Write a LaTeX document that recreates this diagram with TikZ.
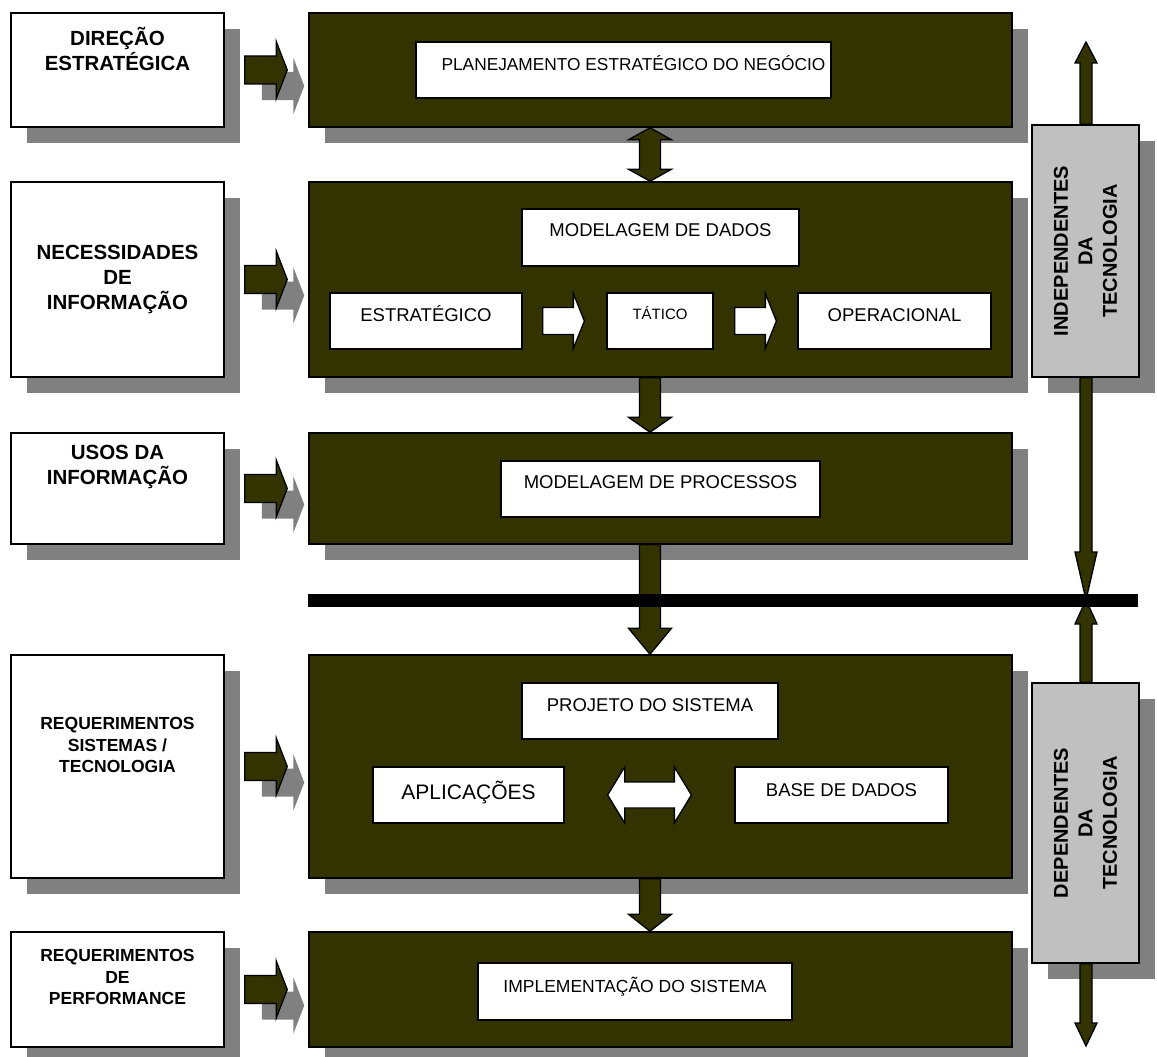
\documentclass[tikz,border=0pt]{standalone}
\usepackage{fontspec}
\setmainfont{Liberation Sans}
\usetikzlibrary{calc,shadows}

\definecolor{olivefill}{RGB}{51,51,0}
\definecolor{shadowgray}{RGB}{128,128,128}
\definecolor{panelgray}{RGB}{192,192,192}

% block arrows: #1 style, #2 first point, #3 second point,
% #4 half shaft width, #5 half head width, #6 head length
\newcommand\blockdown[6]{%
  \path[#1] let \p1=(#2), \p2=(#3) in
    (\x1-#4,\y1) -- (\x1+#4,\y1) -- (\x1+#4,\y2+#6) -- (\x1+#5,\y2+#6)
    -- (\x1,\y2) -- (\x1-#5,\y2+#6) -- (\x1-#4,\y2+#6) -- cycle;}
\newcommand\blockup[6]{%
  \path[#1] let \p1=(#2), \p2=(#3) in
    (\x1,\y1) -- (\x1+#5,\y1-#6) -- (\x1+#4,\y1-#6) -- (\x1+#4,\y2)
    -- (\x1-#4,\y2) -- (\x1-#4,\y1-#6) -- (\x1-#5,\y1-#6) -- cycle;}
\newcommand\blockupdown[6]{%
  \path[#1] let \p1=(#2), \p2=(#3) in
    (\x1,\y1) -- (\x1+#5,\y1-#6) -- (\x1+#4,\y1-#6) -- (\x1+#4,\y2+#6)
    -- (\x1+#5,\y2+#6) -- (\x1,\y2) -- (\x1-#5,\y2+#6) -- (\x1-#4,\y2+#6)
    -- (\x1-#4,\y1-#6) -- (\x1-#5,\y1-#6) -- cycle;}
\newcommand\blockright[6]{%
  \path[#1] let \p1=(#2), \p2=(#3) in
    (\x1,\y1-#4) -- (\x2-#6,\y1-#4) -- (\x2-#6,\y1-#5) -- (\x2,\y1)
    -- (\x2-#6,\y1+#5) -- (\x2-#6,\y1+#4) -- (\x1,\y1+#4) -- cycle;}
\newcommand\blockleftright[6]{%
  \path[#1] let \p1=(#2), \p2=(#3) in
    (\x1,\y1) -- (\x1+#6,\y1+#5) -- (\x1+#6,\y1+#4) -- (\x2-#6,\y1+#4)
    -- (\x2-#6,\y1+#5) -- (\x2,\y1) -- (\x2-#6,\y1-#5) -- (\x2-#6,\y1-#4)
    -- (\x1+#6,\y1-#4) -- (\x1+#6,\y1-#5) -- cycle;}

\tikzset{
  boxshadow/.style={drop shadow={shadow xshift=16pt, shadow yshift=-16pt,
      opacity=1, fill=shadowgray}},
  sidebox/.style={rectangle, inner sep=0, draw=black, line width=1.5pt,
      fill=white, boxshadow},
  stagebox/.style={rectangle, inner sep=0, draw=black, line width=1.5pt,
      fill=olivefill, boxshadow},
  innerbox/.style={rectangle, inner sep=0, draw=black, line width=1.3pt,
      fill=white},
  panelbox/.style={rectangle, inner sep=0, draw=black, line width=1.3pt,
      fill=panelgray, boxshadow},
  sidelabel/.style={align=center, inner sep=0,
      font=\fontsize{20.5}{25}\selectfont\bfseries},
  smallsidelabel/.style={align=center, inner sep=0,
      font=\fontsize{17.5}{21.5}\selectfont\bfseries},
  panellabel/.style={align=center, inner sep=0, rotate=90,
      font=\fontsize{20}{24.5}\selectfont\bfseries},
  innerlabel/.style={inner sep=0, font=\fontsize{18.5}{22}\selectfont},
  darkarrow/.style={fill=olivefill, draw=black, line width=1.3pt, line join=miter},
  whitearrow/.style={fill=white, draw=black, line width=1.3pt, line join=miter},
  shadowarrow/.style={fill=shadowgray},
}

\begin{document}
\begin{tikzpicture}[x=1pt,y=-1pt]
\useasboundingbox (0,0) rectangle (1157,1057);

% left column: inputs
\node[sidebox, minimum width=213pt, minimum height=114pt] (L1) at (117.5,70) {};
\node[sidebox, minimum width=213pt, minimum height=195pt] (L2) at (117.5,279.5) {};
\node[sidebox, minimum width=213pt, minimum height=111pt] (L3) at (117.5,488.5) {};
\node[sidebox, minimum width=213pt, minimum height=223pt] (L4) at (117.5,766.5) {};
\node[sidebox, minimum width=213pt, minimum height=115pt] (L5) at (117.5,989.5) {};

\node[sidelabel] (L1t) at (117.5,49) {DIREÇÃO\\ESTRATÉGICA};
\node[sidelabel] (L2t) at (117.5,279) {NECESSIDADES\\DE\\INFORMAÇÃO};
\node[sidelabel] (L3t) at (117.5,466.5) {USOS DA\\INFORMAÇÃO};
\node[smallsidelabel] (L4t) at (117.5,745) {REQUERIMENTOS\\SISTEMAS /\\TECNOLOGIA};
\node[smallsidelabel] (L5t) at (117.5,977) {REQUERIMENTOS\\DE\\PERFORMANCE};

% central column: stages
\node[stagebox, minimum width=703pt, minimum height=114pt] (D1) at (660.5,70) {};
\node[stagebox, minimum width=703pt, minimum height=195pt] (D2) at (660.5,279.5) {};
\node[stagebox, minimum width=703pt, minimum height=111pt] (D3) at (660.5,488.5) {};
\node[stagebox, minimum width=703pt, minimum height=223pt] (D4) at (660.5,766.5) {};
\node[stagebox, minimum width=703pt, minimum height=115pt] (D5) at (660.5,989.5) {};

% input arrows with their shadows
\foreach \i in {1,...,5}{
  \coordinate (ina\i) at ($(L\i.east |- D\i.center)+(20,0)$);
  \coordinate (inb\i) at ($(D\i.west)+(-21,0)$);
  \blockright{shadowarrow}{$(ina\i)+(17,16)$}{$(inb\i)+(17,16)$}{14pt}{28.5pt}{11pt}
  \blockright{darkarrow}{ina\i}{inb\i}{14pt}{28.5pt}{11pt}
}

% stage contents
\node[innerbox, minimum width=415pt, minimum height=56pt] (PLAN) at (623.5,70) {};
\node[innerlabel, font=\fontsize{17.3}{21}\selectfont] (PLANt) at ($(PLAN.center)+(10,-7)$) {PLANEJAMENTO ESTRATÉGICO DO NEGÓCIO};

\node[innerbox, minimum width=277pt, minimum height=57pt] (MDAD) at (660.5,237.5) {};
\node[innerlabel] (MDADt) at ($(MDAD.center)+(0,-7)$) {MODELAGEM DE DADOS};

\node[innerbox, minimum width=192pt, minimum height=56pt] (EST) at (426,321) {};
\node[innerlabel] (ESTt) at ($(EST.center)+(0,-7)$) {ESTRATÉGICO};
\node[innerbox, minimum width=106pt, minimum height=56pt] (TAT) at (660,321) {};
\node[innerlabel, font=\fontsize{15}{18}\selectfont] (TATt) at ($(TAT.center)+(0,-8)$) {TÁTICO};
\node[innerbox, minimum width=193pt, minimum height=56pt] (OPER) at (894.5,321) {};
\node[innerlabel] (OPERt) at ($(OPER.center)+(0,-6)$) {OPERACIONAL};

\blockright{whitearrow}{$(EST.east)+(20,0)$}{$(TAT.west)+(-22,0)$}{13.5pt}{27.5pt}{11pt}
\blockright{whitearrow}{$(TAT.east)+(21,0)$}{$(OPER.west)+(-21,0)$}{13.5pt}{27.5pt}{11pt}

\node[innerbox, minimum width=319pt, minimum height=56pt] (MPROC) at (660.5,489) {};
\node[innerlabel] (MPROCt) at ($(MPROC.center)+(0,-7)$) {MODELAGEM DE PROCESSOS};

\node[innerbox, minimum width=256pt, minimum height=56pt] (PROJ) at (650,711) {};
\node[innerlabel] (PROJt) at ($(PROJ.center)+(0,-6)$) {PROJETO DO SISTEMA};

\node[innerbox, minimum width=191pt, minimum height=56pt] (APL) at (468.5,795) {};
\node[innerlabel, font=\fontsize{21}{25}\selectfont] (APLt) at ($(APL.center)+(0,-3)$) {APLICAÇÕES};
\node[innerbox, minimum width=213pt, minimum height=56pt] (BASE) at (841.5,795) {};
\node[innerlabel] (BASEt) at ($(BASE.center)+(0,-5)$) {BASE DE DADOS};
\blockleftright{whitearrow}{$(APL.east)+(43,0)$}{$(BASE.west)+(-43,0)$}{13pt}{28pt}{17pt}

\node[innerbox, minimum width=314pt, minimum height=57pt] (IMPL) at (635,991.5) {};
\node[innerlabel, font=\fontsize{17.5}{21}\selectfont] (IMPLt) at ($(IMPL.center)+(0,-5)$) {IMPLEMENTAÇÃO DO SISTEMA};

% flow between stages
\coordinate (spine) at (650,0);
\blockupdown{darkarrow}{spine |- D1.south}{spine |- D2.north}{10.5pt}{21.5pt}{12pt}
\blockdown{darkarrow}{spine |- D2.south}{spine |- D3.north}{10.5pt}{21.5pt}{15pt}
\blockdown{darkarrow}{spine |- D3.south}{spine |- D4.north}{10.5pt}{21.5pt}{26pt}
\blockdown{darkarrow}{spine |- D4.south}{spine |- D5.north}{10.5pt}{21.5pt}{17pt}

% right column: technology scope
\node[panelbox, minimum width=107pt, minimum height=252pt] (IND) at (1085.5,251) {};
\node[panellabel] (INDt) at (IND.center) {INDEPENDENTES\\DA\\TECNOLOGIA};
\node[panelbox, minimum width=107pt, minimum height=280pt] (DEP) at (1085.5,823) {};
\node[panellabel] (DEPt) at (DEP.center) {DEPENDENTES\\DA\\TECNOLOGIA};

\coordinate (toptip) at (1086,42);
\coordinate (midpoint) at (1086,600);
\coordinate (bottip) at (1086,1046);
\blockup{darkarrow}{toptip}{toptip |- IND.north}{6pt}{11pt}{21pt}
\blockdown{darkarrow}{midpoint |- IND.south}{midpoint}{6pt}{11pt}{48pt}
\blockup{darkarrow}{midpoint}{midpoint |- DEP.north}{6pt}{11pt}{24pt}
\blockdown{darkarrow}{bottip |- DEP.south}{bottip}{6pt}{11pt}{23pt}

% boundary between the two phases
\node[rectangle, fill=black, inner sep=0, minimum width=830pt, minimum height=13pt] (BAR) at (723,600.5) {};
\end{tikzpicture}
\end{document}
